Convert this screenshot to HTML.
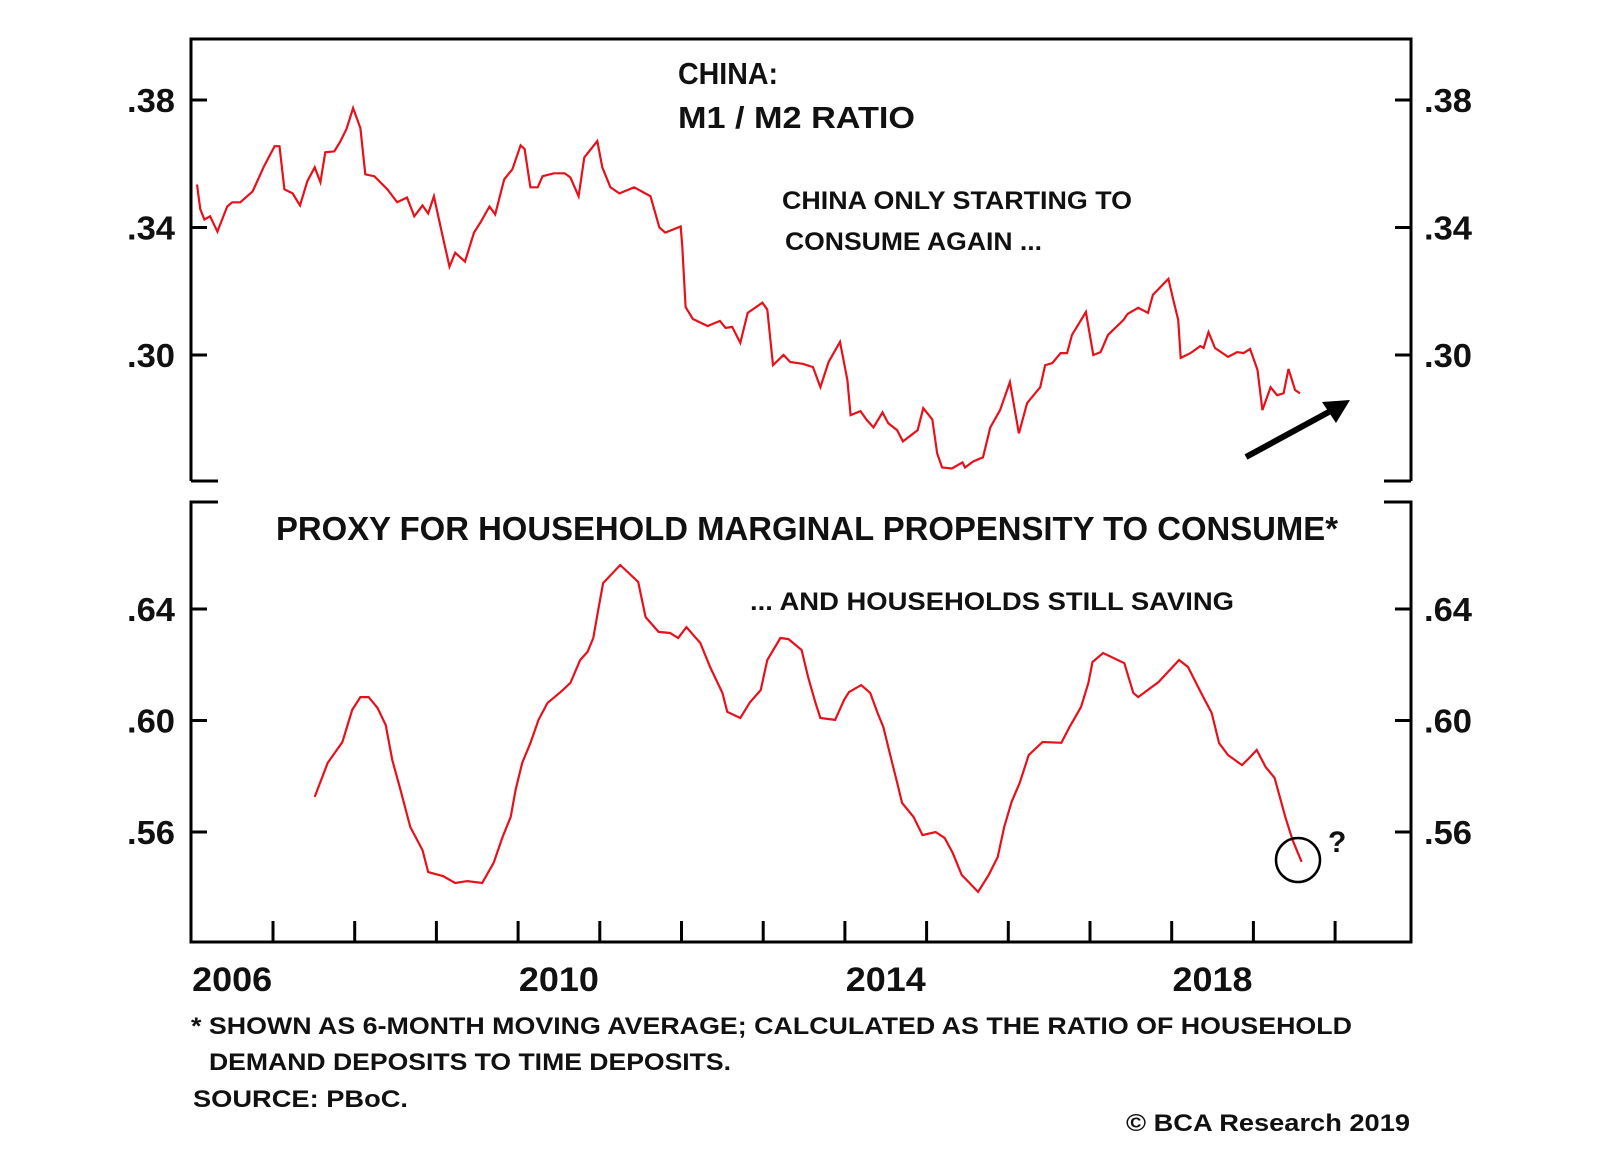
<!DOCTYPE html>
<html><head><meta charset="utf-8">
<style>
html,body{margin:0;padding:0;background:#fff;}
svg{display:block;}
text{font-family:"Liberation Sans",Arial,sans-serif;font-weight:bold;fill:#111;}
</style></head>
<body>
<svg id="chart" width="1600" height="1152" viewBox="0 0 1600 1152">
  <g id="frames"></g>
  <g id="axes"></g>
  <g id="series"></g>
  <text x="678" y="84" font-size="31" textLength="100" lengthAdjust="spacingAndGlyphs">CHINA:</text>
  <text x="678" y="128" font-size="31" textLength="237" lengthAdjust="spacingAndGlyphs">M1 / M2 RATIO</text>
  <text x="782" y="209" font-size="25" textLength="350" lengthAdjust="spacingAndGlyphs">CHINA ONLY STARTING TO</text>
  <text x="785" y="250" font-size="25" textLength="257" lengthAdjust="spacingAndGlyphs">CONSUME AGAIN ...</text>
  <text x="276" y="540" font-size="33" textLength="1062" lengthAdjust="spacingAndGlyphs">PROXY FOR HOUSEHOLD MARGINAL PROPENSITY TO CONSUME*</text>
  <text x="750" y="610" font-size="25" textLength="484" lengthAdjust="spacingAndGlyphs">... AND HOUSEHOLDS STILL SAVING</text>
  <text x="191" y="1034" font-size="24" textLength="1161" lengthAdjust="spacingAndGlyphs">* SHOWN AS 6-MONTH MOVING AVERAGE; CALCULATED AS THE RATIO OF HOUSEHOLD</text>
  <text x="209" y="1070" font-size="24" textLength="522" lengthAdjust="spacingAndGlyphs">DEMAND DEPOSITS TO TIME DEPOSITS.</text>
  <text x="193" y="1107" font-size="24" textLength="215" lengthAdjust="spacingAndGlyphs">SOURCE: PBoC.</text>
  <text x="1410" y="1131" font-size="24" text-anchor="end" textLength="284" lengthAdjust="spacingAndGlyphs">© BCA Research 2019</text>
  <g>
    <line x1="1246" y1="457" x2="1338" y2="407" stroke="#000" stroke-width="6"/>
    <polygon points="1350,400 1322,402 1336,423" fill="#000"/>
  </g>
  <circle cx="1298" cy="860" r="22" fill="none" stroke="#000" stroke-width="2.5"/>
  <text x="1328" y="852" font-size="30">?</text>
</svg>
<script>
// ---- data ----
const yearLabels = ["2006","2010","2014","2018"];
const yearLabelPos = [2006.5, 2010.5, 2014.5, 2018.5];
const xTickYears = [2007,2008,2009,2010,2011,2012,2013,2014,2015,2016,2017,2018,2019,2020];
const topTicks = [0.38, 0.34, 0.30];
const topTickLabels = [".38", ".34", ".30"];
const botTicks = [0.64, 0.60, 0.56];
const botTickLabels = [".64", ".60", ".56"];

const topYears = [2006.07,2006.11,2006.16,2006.23,2006.32,2006.44,2006.50,2006.60,2006.75,2006.89,2007.02,2007.08,2007.14,2007.24,2007.33,2007.42,2007.51,2007.58,2007.64,2007.75,2007.82,2007.90,2007.98,2008.07,2008.13,2008.24,2008.40,2008.52,2008.64,2008.73,2008.83,2008.90,2008.97,2009.05,2009.16,2009.23,2009.35,2009.46,2009.54,2009.65,2009.72,2009.83,2009.93,2010.03,2010.08,2010.15,2010.24,2010.30,2010.44,2010.57,2010.64,2010.74,2010.81,2010.97,2011.03,2011.13,2011.24,2011.42,2011.62,2011.73,2011.80,2011.99,2012.01,2012.05,2012.07,2012.14,2012.32,2012.47,2012.54,2012.62,2012.72,2012.81,2012.99,2013.05,2013.12,2013.25,2013.33,2013.49,2013.61,2013.70,2013.80,2013.94,2014.03,2014.07,2014.19,2014.27,2014.35,2014.46,2014.53,2014.64,2014.71,2014.89,2014.96,2015.07,2015.13,2015.19,2015.31,2015.44,2015.47,2015.57,2015.69,2015.78,2015.90,2016.02,2016.13,2016.23,2016.39,2016.45,2016.54,2016.64,2016.72,2016.78,2016.95,2017.04,2017.13,2017.22,2017.41,2017.46,2017.59,2017.71,2017.77,2017.96,2018.02,2018.08,2018.11,2018.23,2018.35,2018.39,2018.45,2018.53,2018.69,2018.80,2018.88,2018.96,2019.05,2019.11,2019.21,2019.29,2019.37,2019.43,2019.51,2019.57];
const topVals = [0.3535,0.3457,0.3425,0.3435,0.3387,0.3466,0.3479,0.3479,0.3513,0.3592,0.3655,0.3655,0.3520,0.3507,0.3469,0.3545,0.3589,0.3542,0.3636,0.3639,0.3668,0.3709,0.3775,0.3712,0.3567,0.3561,0.3520,0.3479,0.3494,0.3435,0.3469,0.3444,0.3498,0.3403,0.3277,0.3321,0.3293,0.3384,0.3416,0.3466,0.3441,0.3551,0.3583,0.3658,0.3646,0.3526,0.3526,0.3561,0.3570,0.3570,0.3557,0.3498,0.3620,0.3671,0.3589,0.3526,0.3507,0.3526,0.3498,0.3400,0.3384,0.3403,0.3340,0.3151,0.3142,0.3113,0.3091,0.3107,0.3085,0.3088,0.3038,0.3132,0.3164,0.3142,0.2968,0.3000,0.2978,0.2972,0.2962,0.2899,0.2978,0.3041,0.2921,0.2811,0.2824,0.2795,0.2773,0.2820,0.2786,0.2764,0.2729,0.2764,0.2833,0.2798,0.2691,0.2647,0.2644,0.2663,0.2647,0.2666,0.2679,0.2773,0.2827,0.2915,0.2754,0.2849,0.2899,0.2968,0.2975,0.3006,0.3006,0.3063,0.3135,0.3000,0.3009,0.3063,0.3110,0.3129,0.3148,0.3132,0.3189,0.3239,0.3173,0.3110,0.2991,0.3006,0.3028,0.3022,0.3072,0.3022,0.2994,0.3009,0.3006,0.3019,0.2953,0.2827,0.2899,0.2874,0.2880,0.2956,0.2890,0.2880];

const botYears = [2007.51,2007.67,2007.85,2007.97,2008.07,2008.17,2008.28,2008.38,2008.46,2008.56,2008.68,2008.83,2008.90,2009.08,2009.23,2009.38,2009.56,2009.70,2009.81,2009.91,2009.97,2010.05,2010.15,2010.25,2010.36,2010.52,2010.64,2010.76,2010.85,2010.92,2010.98,2011.04,2011.25,2011.47,2011.56,2011.72,2011.86,2011.96,2012.06,2012.23,2012.35,2012.50,2012.56,2012.72,2012.84,2012.97,2013.05,2013.21,2013.31,2013.47,2013.55,2013.64,2013.70,2013.88,2013.99,2014.05,2014.20,2014.31,2014.40,2014.47,2014.56,2014.64,2014.70,2014.84,2014.95,2015.11,2015.22,2015.32,2015.43,2015.63,2015.76,2015.87,2015.95,2016.04,2016.14,2016.25,2016.42,2016.65,2016.75,2016.89,2016.98,2017.03,2017.16,2017.42,2017.53,2017.59,2017.84,2018.09,2018.20,2018.36,2018.49,2018.58,2018.69,2018.86,2018.95,2019.04,2019.15,2019.26,2019.39,2019.48,2019.59];
const botVals = [0.5726,0.5848,0.5923,0.6038,0.6084,0.6084,0.6045,0.5984,0.5858,0.5751,0.5618,0.5535,0.5456,0.5442,0.5417,0.5424,0.5417,0.5489,0.5582,0.5654,0.5751,0.5848,0.5919,0.6002,0.6063,0.6102,0.6135,0.6217,0.6246,0.6296,0.6396,0.6493,0.6558,0.6497,0.6371,0.6318,0.6314,0.6296,0.6335,0.6278,0.6192,0.6099,0.6031,0.6009,0.6066,0.6109,0.6217,0.6296,0.6292,0.6253,0.6156,0.6063,0.6009,0.6002,0.6074,0.6102,0.6127,0.6099,0.6027,0.5977,0.5869,0.5776,0.5704,0.5654,0.5589,0.5600,0.5579,0.5525,0.5446,0.5385,0.5446,0.5510,0.5618,0.5708,0.5776,0.5876,0.5923,0.5920,0.5977,0.6048,0.6135,0.6210,0.6242,0.6206,0.6099,0.6084,0.6138,0.6217,0.6192,0.6099,0.6027,0.5919,0.5876,0.5840,0.5866,0.5894,0.5833,0.5794,0.5654,0.5571,0.5493];

// ---- scales ----
const L = 191, R = 1411;
function xScale(yr){ return 273 + (yr - 2007) * 81.7; }
function yTop(v){ return 100 + (0.38 - v) / 0.04 * 127.5; }
function yBot(v){ return 609 + (0.64 - v) / 0.04 * 111.5; }

const NS = "http://www.w3.org/2000/svg";
function mk(tag, attrs, parent){
  const el = document.createElementNS(NS, tag);
  for (const k in attrs) el.setAttribute(k, attrs[k]);
  parent.appendChild(el);
  return el;
}
const frames = document.getElementById('frames');
const axes = document.getElementById('axes');
const series = document.getElementById('series');

// top panel frame: top, left, right, bottom stubs
let p = mk('path', {d:`M${L},481 L${L},39 L${R},39 L${R},481 M${L},481 L${L+27},481 M${R},481 L${R-27},481`, fill:'none', stroke:'#000', 'stroke-width':3}, frames);


// bottom panel frame
p = mk('path', {d:`M${L+27},502 L${L},502 L${L},942 L${R},942 L${R},502 L${R-27},502`, fill:'none', stroke:'#000', 'stroke-width':3}, frames);



// y ticks & labels
function yAxis(ticks, labels, sc, prefix){
  ticks.forEach((t, i) => {
    const y = sc(t);
    const l1 = mk('line', {x1:L, x2:L+16, y1:y, y2:y, stroke:'#000', 'stroke-width':3}, axes);
    
    
    const l2 = mk('line', {x1:R-16, x2:R, y1:y, y2:y, stroke:'#000', 'stroke-width':3}, axes);
    
    
    const tl = mk('text', {x:175, y:y+12, 'font-size':33, 'text-anchor':'end', textLength:48, lengthAdjust:'spacingAndGlyphs'}, axes);
    tl.textContent = labels[i];
    
    
    const tr = mk('text', {x:1424, y:y+12, 'font-size':33, textLength:48, lengthAdjust:'spacingAndGlyphs'}, axes);
    tr.textContent = labels[i];
    
    
  });
}
yAxis(topTicks, topTickLabels, yTop, 'top-y');
yAxis(botTicks, botTickLabels, yBot, 'bottom-y');

// x ticks
xTickYears.forEach(yr => {
  const x = xScale(yr);
  const t = mk('line', {x1:x, x2:x, y1:942, y2:921, stroke:'#000', 'stroke-width':3}, axes);
  
  
});
yearLabels.forEach((lab, i) => {
  const t = mk('text', {x:xScale(yearLabelPos[i]), y:991, 'font-size':34, 'text-anchor':'middle', textLength:80, lengthAdjust:'spacingAndGlyphs'}, axes);
  t.textContent = lab;
  
  
});

// series lines
function line(xs, vs, sc, name){
  const d = xs.map((yr, i) => (i ? 'L' : 'M') + xScale(yr).toFixed(1) + ',' + sc(vs[i]).toFixed(1)).join(' ');
  const el = mk('path', {d:d, fill:'none', stroke:'#e8101a', 'stroke-width':2.2, 'stroke-linejoin':'miter'}, series);
  
  
}
line(topYears, topVals, yTop, 'm1-m2-ratio-line');
line(botYears, botVals, yBot, 'propensity-to-consume-line');
</script>
</body></html>
